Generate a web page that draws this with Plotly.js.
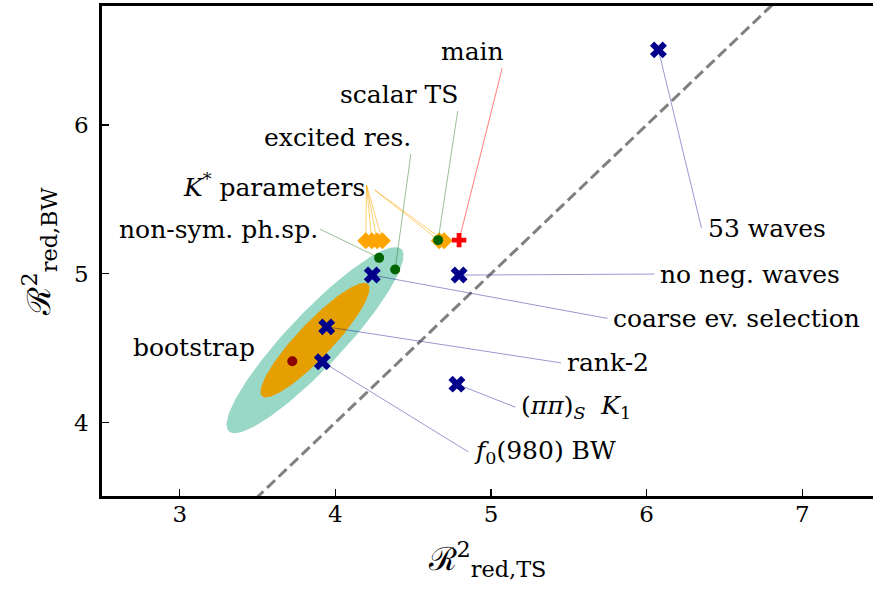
<!DOCTYPE html>
<html>
<head>
<meta charset="utf-8">
<script src="https://cdn.plot.ly/plotly-3.0.1.min.js"></script>
<style>html,body{margin:0;padding:0;background:#fff;overflow:hidden}#chart{width:873px;height:592px}</style>
</head>
<body>
<div id="chart"></div>
<script>
// ---- data ----
const waveLabels = ['53 waves', 'no neg. waves', 'coarse ev. selection', 'rank-2',
  '(<i>ππ</i>)<sub><i>S</i></sub>  <i>K</i><sub>1</sub>', '<i>f</i><sub>0</sub>(980) BW'];
const waveTS = [6.076, 4.795, 4.237, 3.944, 4.781, 3.916];
const waveBW = [6.505, 4.991, 4.991, 4.643, 4.258, 4.408];

const modelLabels = ['scalar TS', 'excited res.', 'non-sym. ph.sp.'];
const modelTS = [4.660, 4.384, 4.281];
const modelBW = [5.226, 5.029, 5.107];

const kstarLabel = '<i>K</i><sup>*</sup> parameters';
const kstarTS = [4.195, 4.234, 4.268, 4.302, 4.667, 4.699];
const kstarBW = [5.222, 5.222, 5.222, 5.222, 5.222, 5.222];

const mainLabel = 'main';
const mainTS = [4.795];
const mainBW = [5.226];

const bootLabel = 'bootstrap';
const bootTS = [3.723];
const bootBW = [4.412];

// bootstrap confidence ellipses (centre, semi-axes, angle in data units)
const ellCenter = [3.869, 4.554];
const ellAngleDeg = 48;
const ellOuter = [0.826, 0.18];
const ellInner = [0.508, 0.115];

const diagonal = [2, 8];

// ---- label placement (layout only) ----
const waveTail = [[6.353, 5.307], [6.050, 4.998], [5.748, 4.700], [5.450, 4.401], [5.156, 4.103], [4.855, 3.802]];
const modelTail = [[4.802, 6.202], [4.499, 5.913], [3.901, 5.300]];
const kstarTail = [[4.200, 5.596], [4.200, 5.596], [4.200, 5.596], [4.200, 5.596], [4.252, 5.563], [4.252, 5.563]];
const mainTail = [5.098, 6.491];
const bootPos = [3.495, 4.507];

function ellipse(c, ax, angDeg) {
  const th = angDeg * Math.PI / 180, xs = [], ys = [];
  for (let i = 0; i <= 180; i++) {
    const t = 2 * Math.PI * i / 180;
    xs.push(c[0] + ax[0] * Math.cos(th) * Math.cos(t) - ax[1] * Math.sin(th) * Math.sin(t));
    ys.push(c[1] + ax[0] * Math.sin(th) * Math.cos(t) + ax[1] * Math.cos(th) * Math.sin(t));
  }
  return {xs, ys};
}
const eo = ellipse(ellCenter, ellOuter, ellAngleDeg);
const ei = ellipse(ellCenter, ellInner, ellAngleDeg);

const FONT = 'DejaVu Serif';
const KCOL = 'rgba(255,165,0,0.55)';

const traces = [
  {x: eo.xs, y: eo.ys, mode: 'lines', fill: 'toself', fillcolor: 'rgba(0,158,115,0.4)', line: {width: 0}, hoverinfo: 'skip'},
  {x: ei.xs, y: ei.ys, mode: 'lines', fill: 'toself', fillcolor: '#E69F00', line: {width: 0}, hoverinfo: 'skip'},
  {x: diagonal, y: diagonal, mode: 'lines', line: {color: 'rgb(128,128,128)', width: 3, dash: '11px,5px'}}
];
kstarTS.forEach((v, i) => {
  if (i === 3) return;
  traces.push({x: [kstarTail[i][0], v], y: [kstarTail[i][1], kstarBW[i]], mode: 'lines',
    line: {color: KCOL, width: 1}, hoverinfo: 'skip'});
});
traces.push(
  {x: kstarTS, y: kstarBW, mode: 'markers', marker: {symbol: 'diamond', color: '#FFA500', size: 13}},
  {x: modelTS, y: modelBW, mode: 'markers', marker: {symbol: 'circle', color: '#006400', size: 10}},
  {x: mainTS, y: mainBW, mode: 'markers', marker: {symbol: 'cross', color: '#FF0000', size: 12}},
  {x: waveTS, y: waveBW, mode: 'markers', marker: {symbol: 'x', color: '#00008B', size: 15}},
  {x: bootTS, y: bootBW, mode: 'markers', marker: {symbol: 'circle', color: '#8B0000', size: 10}}
);

const annFont = {family: FONT, size: 25, color: '#000'};
const ann = [];
function addAnn(text, px, py, tail, side, color) {
  ann.push({
    x: px, y: py, xref: 'x', yref: 'y', ax: tail[0], ay: tail[1], axref: 'x', ayref: 'y',
    text: text, showarrow: true, arrowhead: 0, arrowwidth: 1, arrowcolor: color,
    xanchor: side, yanchor: 'middle', font: annFont, borderpad: side === 'left' ? 5 : 1
  });
}
waveLabels.forEach((t, i) => addAnn(t, waveTS[i], waveBW[i], waveTail[i], 'left', 'rgba(0,0,139,0.4)'));
modelLabels.forEach((t, i) => addAnn(t, modelTS[i], modelBW[i], modelTail[i], 'right', 'rgba(0,100,0,0.4)'));
addAnn(mainLabel, mainTS[0], mainBW[0], mainTail, 'right', 'rgba(255,0,0,0.5)');
addAnn(kstarLabel, kstarTS[3], kstarBW[3], kstarTail[3], 'right', KCOL);
ann.push({x: bootPos[0], y: bootPos[1], xref: 'x', yref: 'y', text: bootLabel, showarrow: false,
  xanchor: 'right', yanchor: 'middle', font: annFont});

const layout = {
  width: 873, height: 592,
  margin: {l: 102, r: 0, t: 6, b: 96},
  paper_bgcolor: '#fff', plot_bgcolor: '#fff',
  showlegend: false,
  font: {family: FONT, color: '#000'},
  xaxis: {
    range: [2.5, 7.455], tickvals: [3, 4, 5, 6, 7], ticks: 'inside', ticklen: 7, tickwidth: 1.3, tickcolor: '#000',
    showline: true, linecolor: '#000', linewidth: 2.7, mirror: true, showgrid: false, zeroline: false,
    tickfont: {family: FONT, size: 23}, ticklabelstandoff: -4,
    title: {text: 'ℛ<sup>2</sup><sub>red,TS</sub>', font: {family: FONT, size: 32}, standoff: 22}
  },
  yaxis: {
    range: [3.506, 6.8], tickvals: [4, 5, 6], ticks: 'inside', ticklen: 7, tickwidth: 1.3, tickcolor: '#000',
    showline: true, linecolor: '#000', linewidth: 2.7, mirror: false, showgrid: false, zeroline: false,
    tickfont: {family: FONT, size: 23}, ticklabelstandoff: 6,
    title: {text: 'ℛ<sup>2</sup><sub>red,BW</sub>', font: {family: FONT, size: 32}, standoff: 14}
  },
  annotations: ann
};

Plotly.newPlot('chart', traces, layout, {staticPlot: true, displayModeBar: false});
</script>
</body>
</html>
